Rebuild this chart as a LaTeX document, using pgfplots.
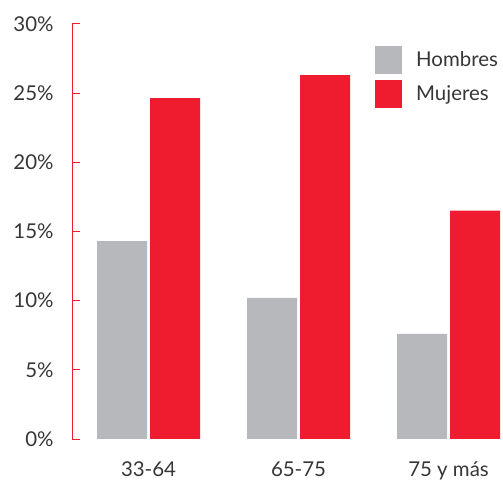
\documentclass[border=0pt]{standalone}
\usepackage{pgfplots}
\pgfplotsset{compat=1.18}
\usepackage{fontspec}
\setmainfont{Lato}
\definecolor{hgray}{HTML}{B7B8BC}
\definecolor{mred}{HTML}{EE1C2E}
\definecolor{txt}{HTML}{363636}
\begin{document}
\begin{tikzpicture}
\path[use as bounding box] (0,0) rectangle (503bp,483bp);
\begin{axis}[
  at={(72bp,44bp)}, anchor=south west,
  scale only axis, width=431bp, height=415bp,
  xmin=-0.51, xmax=2.363, ymin=0, ymax=30,
  ybar=3bp, bar width=50bp,
  axis lines*=left,
  x axis line style={draw=none},
  y axis line style={mred, line width=1pt},
  xtick={0,1,2}, xticklabels={33-64,65-75,75 y más},
  major x tick style={draw=none},
  ytick={0,5,...,30},
  yticklabel={\pgfmathprintnumber{\tick}\%},
  major y tick style={mred, line width=1pt},
  major tick length=8bp,
  tick align=inside,
  /pgf/number format/assume math mode=true,
  ticklabel style={font=\fontsize{20.5}{24}\selectfont, text=txt},
  yticklabel style={xshift=-15bp},
  xticklabel style={yshift=-19bp},
  legend style={at={(0.703,0.948)}, anchor=north west, draw=none, fill=none,
    inner xsep=0pt, inner ysep=0pt, row sep=6bp,
    font=\fontsize{20.5}{24}\selectfont, text=txt,
    legend cell align=left},
  legend image code/.code={\fill[#1] (0bp,-14bp) rectangle (27bp,14bp);},
]
\addplot[fill=hgray, draw=none] coordinates {(0,14.3) (1,10.2) (2,7.6)};
\addplot[fill=mred, draw=none] coordinates {(0,24.65) (1,26.3) (2,16.5)};
\legend{\hspace{12bp}Hombres,\hspace{12bp}Mujeres}
\end{axis}
\end{tikzpicture}
\end{document}
